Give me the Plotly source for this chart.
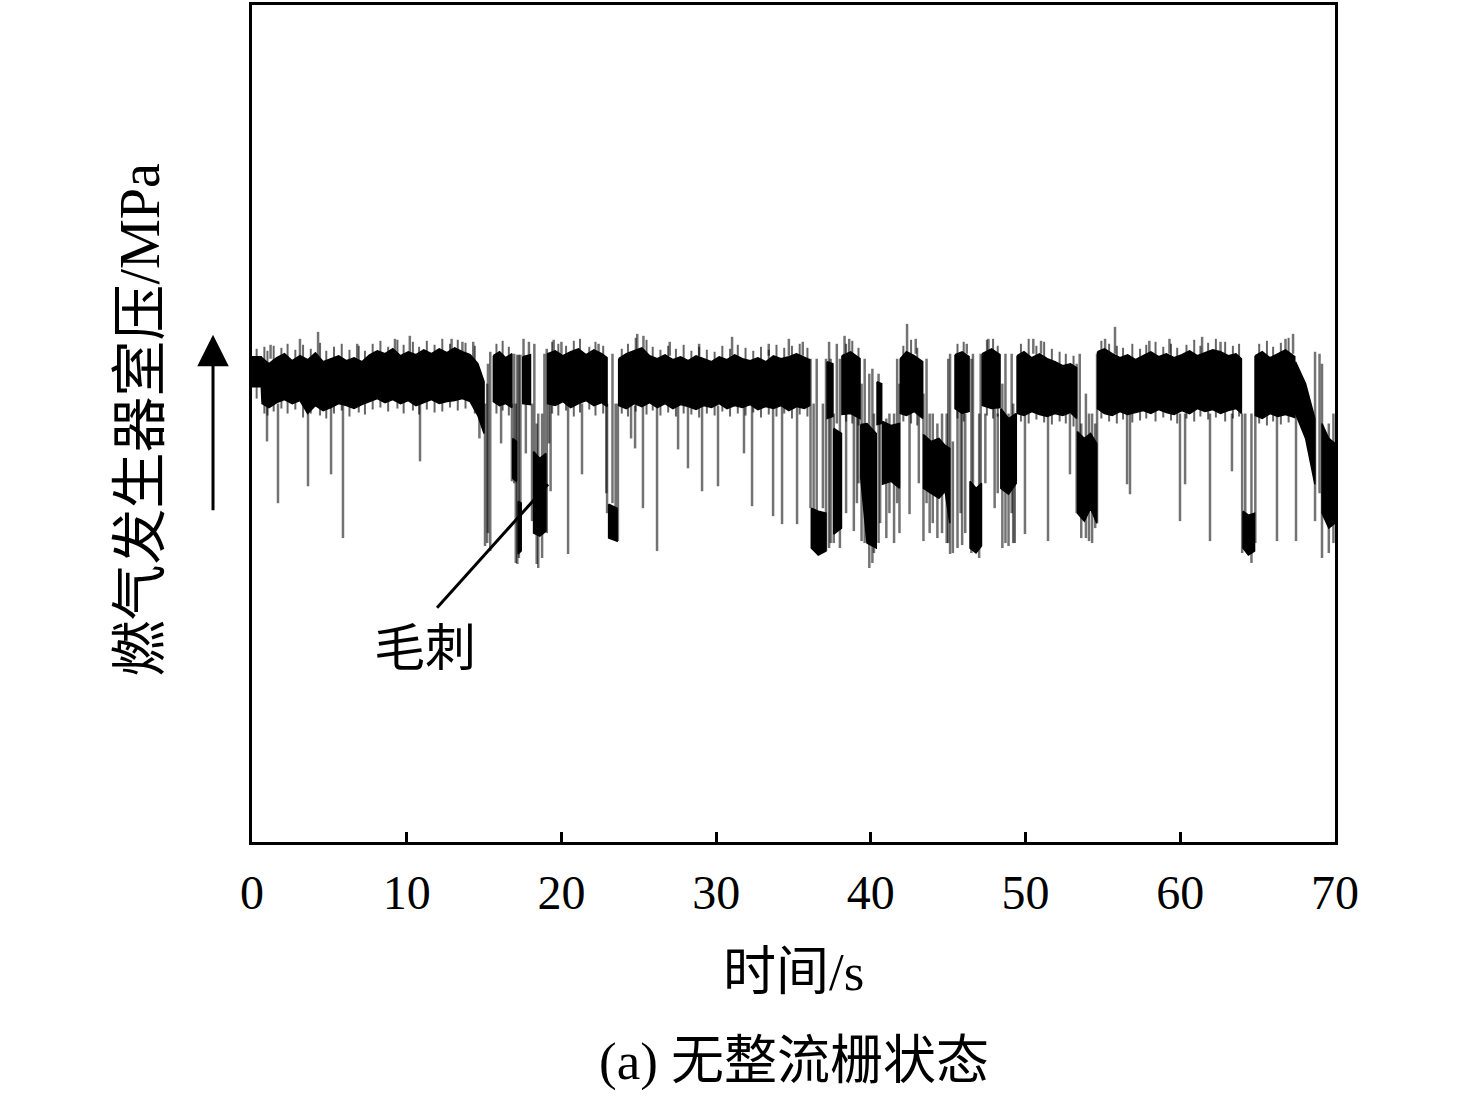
import plotly.graph_objects as go

# time axis (s) and chamber pressure (arbitrary MPa scale, no y labels in source)
# dense black band of the signal: segments separated by None
band_t = [0.0, 0.6, 0.65, 1.1, 1.6, 2.1, 2.6, 3.1, 3.6, 4.1, 4.6, 5.1, 5.6, 6.1, 6.6, 7.1, 7.6, 8.1, 8.6, 9.1,
          9.6, 10.1, 10.6, 11.1, 11.6, 12.1, 12.6, 13.1, 13.6, 14.1, 14.6, 15.0, None,
          15.6, 16.0, 16.4, 16.8, None,
          16.85, 17.1, None,
          17.2, 17.4, None,
          17.5, 18.0, None,
          18.2, 18.6, 19.0, None,
          19.1, 19.6, 20.1, 20.6, 21.1, 21.6, 22.1, 22.6, 22.95, None,
          23.05, 23.6, None,
          23.7, 24.2, 24.7, 25.2, 25.7, 26.2, 26.7, 27.2, 27.7, 28.2, 28.7, 29.2, 29.7, 30.2, 30.7, 31.2,
          31.7, 32.2, 32.7, 33.2, 33.7, 34.2, 34.7, 35.2, 35.7, 36.05, None,
          36.15, 36.6, 37.1, None,
          37.17, 37.55, None,
          37.6, 38.1, None,
          38.13, 38.7, 39.3, None,
          39.35, 39.75, 40.35, None,
          40.4, 40.7, None,
          40.75, 41.3, 41.85, None,
          41.9, 42.3, 42.8, 43.35, None,
          43.4, 43.9, 44.4, 44.8, 45.1, None,
          45.44, 45.9, 46.35, None,
          46.41, 46.8, 47.15, None,
          47.2, 47.8, 48.35, None,
          48.4, 48.9, 49.4, None,
          49.45, 49.9, 50.4, 50.9, 51.4, 51.9, 52.4, 52.9, 53.3, None,
          53.35, 53.8, 54.2, 54.6, None,
          54.65, 55.1, 55.6, 56.1, 56.6, 57.1, 57.6, 58.1, 58.6, 59.1, 59.6, 60.1, 60.6, 61.1, 61.6,
          62.1, 62.6, 63.1, 63.6, 63.95, None,
          64.05, 64.4, 64.8, None,
          64.85, 65.3, 65.8, 66.3, 66.8, 67.4, None,
          67.45, 68.1, 68.7, None,
          69.16, 69.6, 70.0]
band_hi = [4.87, 4.87, 4.86, 4.80, 4.86, 4.90, 4.83, 4.88, 4.84, 4.91, 4.82, 4.85, 4.88, 4.83, 4.86, 4.82, 4.89, 4.93, 4.90, 4.95,
           4.88, 4.92, 4.89, 4.94, 4.90, 4.95, 4.91, 4.96, 4.92, 4.89, 4.80, 4.62, None,
           4.88, 4.92, 4.86, 4.90, None,
           4.05, 4.02, None,
           3.42, 3.40, None,
           4.87, 4.89, None,
           3.92, 3.85, 3.90, None,
           4.90, 4.93, 4.88, 4.92, 4.95, 4.89, 4.94, 4.90, 4.86, None,
           3.39, 3.35, None,
           4.85, 4.90, 4.93, 4.96, 4.88, 4.85, 4.89, 4.84, 4.87, 4.83, 4.88, 4.85, 4.82, 4.87, 4.84, 4.89,
           4.85, 4.83, 4.86, 4.82, 4.88, 4.85, 4.87, 4.90, 4.86, 4.84, None,
           3.35, 3.32, 3.30, None,
           4.82, 4.80, None,
           4.15, 4.10, None,
           4.88, 4.92, 4.85, None,
           4.19, 4.20, 4.10, None,
           4.62, 4.60, None,
           4.22, 4.18, 4.20, None,
           4.85, 4.92, 4.88, 4.82, None,
           4.09, 4.02, 4.05, 3.98, 3.95, None,
           4.89, 4.92, 4.87, None,
           3.62, 3.55, 3.60, None,
           4.90, 4.95, 4.89, None,
           4.35, 4.25, 4.30, None,
           4.88, 4.92, 4.86, 4.90, 4.85, 4.82, 4.78, 4.80, 4.76, None,
           4.12, 4.05, 4.10, 4.00, None,
           4.92, 4.95, 4.90, 4.86, 4.89, 4.84, 4.88, 4.92, 4.87, 4.90, 4.86, 4.89, 4.93, 4.88, 4.91,
           4.94, 4.92, 4.88, 4.90, 4.85, None,
           3.32, 3.28, 3.30, None,
           4.88, 4.92, 4.86, 4.90, 4.94, 4.87, None,
           4.82, 4.60, 4.25, None,
           4.20, 4.05, 4.00]
band_lo = [4.57, 4.57, 4.40, 4.36, 4.41, 4.44, 4.40, 4.43, 4.30, 4.38, 4.33, 4.36, 4.40, 4.38, 4.35, 4.39, 4.42, 4.45, 4.41, 4.44,
           4.40, 4.43, 4.38, 4.41, 4.44, 4.40, 4.42, 4.43, 4.45, 4.42, 4.28, 4.10, None,
           4.42, 4.38, 4.40, 4.36, None,
           3.65, 3.62, None,
           2.89, 2.92, None,
           4.40, 4.39, None,
           3.10, 3.07, 3.12, None,
           4.40, 4.38, 4.42, 4.36, 4.40, 4.43, 4.38, 4.41, 4.37, None,
           3.05, 3.02, None,
           4.38, 4.35, 4.40, 4.37, 4.41, 4.36, 4.40, 4.35, 4.39, 4.37, 4.34, 4.38, 4.36, 4.40, 4.35, 4.38,
           4.36, 4.39, 4.34, 4.37, 4.35, 4.38, 4.33, 4.37, 4.35, 4.38, None,
           2.95, 2.88, 2.92, None,
           4.25, 4.27, None,
           3.09, 3.15, None,
           4.29, 4.30, 4.25, None,
           3.65, 3.00, 2.95, None,
           4.19, 4.20, None,
           3.59, 3.62, 3.55, None,
           4.30, 4.28, 4.32, 4.25, None,
           3.55, 3.50, 3.45, 3.52, 3.20, None,
           4.35, 4.30, 4.32, None,
           2.95, 2.90, 2.97, None,
           4.38, 4.35, 4.36, None,
           3.55, 3.49, 3.60, None,
           4.30, 4.28, 4.32, 4.29, 4.27, 4.30, 4.28, 4.31, 4.25, None,
           3.30, 3.22, 3.35, 3.20, None,
           4.35, 4.30, 4.28, 4.32, 4.29, 4.31, 4.33, 4.30, 4.34, 4.31, 4.29, 4.33, 4.30, 4.35, 4.32,
           4.34, 4.30, 4.33, 4.35, 4.30, None,
           2.95, 2.88, 2.92, None,
           4.28, 4.25, 4.30, 4.27, 4.29, 4.26, None,
           4.30, 4.05, 3.59, None,
           3.30, 3.15, 3.20]

# isolated spikes (grey vertical strokes): time, start, end
spike_t = [0.97, 1.68, 3.62, 5.11, 5.88, 10.86, 14.7, 1.2, 3.1, 4.27, 6.8, 9.24, 10.2, 12.9, 13.6, 14.3,
           15.06, 15.4, 15.25, 16.8, 17.15, 17.25, 17.55, 17.9, 18.1, 18.4, 18.75, 19.05, 19.3, 20.43, 21.33,
           22.95, 23.65, 19.5, 20.0, 22.4,
           15.2, 16.1, 16.95, 17.05, 17.35, 17.7, 18.25, 18.5, 18.9, 19.2, 22.9, 23.3, 23.5,
           24.76, 25.27, 26.18, 27.54, 28.18, 29.09, 30.12, 32.32, 33.68, 34.26, 35.23, 24.5, 31.8,
           24.9, 25.3, 27.0, 28.9, 31.03, 33.4, 34.7, 35.6,
           36.1, 36.3, 37.1, 37.3, 37.6, 38.0, 38.3, 38.6, 38.9, 39.1, 39.4, 39.9, 40.1, 40.5, 41.0, 41.5,
           41.85, 42.34, 42.5, 42.9, 43.4, 43.8, 44.3, 44.9, 45.12, 45.3, 45.6, 45.9, 46.2, 46.5, 47.0,
           47.6, 48.0, 48.5, 48.9, 49.2, 49.96, 51.45, 50.5, 51.0, 52.87, 53.3, 53.6, 54.1, 54.5, 54.62,
           36.5, 36.9, 37.4, 37.8, 38.4, 39.2, 39.6, 40.2, 40.6, 41.2, 41.7, 43.1, 43.6, 44.0, 44.6, 45.0,
           45.8, 46.1, 46.6, 47.1, 47.4, 48.2, 48.7, 49.1, 49.3, 53.5, 53.9, 54.3,
           55.14, 55.78, 56.56, 56.75, 59.98, 60.31, 61.41, 61.92, 63.34, 58.0, 59.3, 62.6, 64.0, 64.6,
           64.85, 66.25, 67.29, 67.48, 66.8, 68.71, 69.0, 69.16, 69.6, 69.9, 64.2]
spike_top = [4.40, 4.40, 4.35, 4.38, 4.40, 4.40, 4.45, 4.85, 4.85, 4.85, 4.85, 4.90, 4.90, 4.90, 4.90, 4.85,
             4.40, 4.92, 4.80, 4.40, 4.89, 4.89, 5.05, 5.02, 4.40, 4.20, 4.30, 4.95, 4.40, 4.40, 4.40,
             4.40, 4.40, 4.90, 4.90, 4.90,
             4.60, 4.40, 4.90, 4.40, 4.89, 4.40, 5.00, 4.30, 4.90, 4.85, 4.40, 4.90, 4.40,
             4.38, 4.38, 4.38, 4.38, 4.38, 4.38, 4.38, 4.38, 4.38, 4.38, 4.38, 4.40, 4.38,
             4.90, 4.90, 4.88, 4.88, 4.88, 4.88, 4.88, 4.88,
             4.85, 4.40, 4.85, 5.02, 4.30, 4.85, 5.08, 5.05, 4.30, 4.80, 4.60, 4.70, 4.75, 4.70, 4.25, 4.30,
             4.60, 4.85, 4.30, 4.90, 4.50, 4.30, 4.20, 4.30, 4.90, 4.02, 4.35, 4.35, 5.00, 4.85, 4.30,
             5.05, 4.35, 4.60, 4.30, 4.40, 4.30, 4.30, 4.90, 4.90, 4.30, 4.80, 4.20, 4.30, 4.20, 4.90,
             4.85, 4.40, 4.85, 5.00, 4.30, 4.85, 4.85, 4.30, 4.60, 4.30, 4.85, 4.30, 4.85, 4.30, 4.30, 4.85,
             4.40, 4.30, 4.90, 4.90, 4.30, 4.30, 4.90, 4.90, 4.30, 4.90, 4.50, 4.30,
             4.90, 4.90, 4.30, 4.30, 4.30, 4.30, 4.90, 4.30, 4.30, 4.90, 4.90, 4.90, 4.30, 4.30,
             4.88, 4.30, 4.90, 4.30, 4.90, 4.92, 4.90, 4.80, 4.20, 4.30, 4.30]
spike_bot = [4.02, 3.40, 3.57, 3.69, 3.05, 3.82, 4.05, 4.99, 5.05, 5.12, 5.00, 5.05, 5.08, 5.05, 5.02, 5.02,
             2.97, 2.92, 3.10, 3.62, 2.79, 2.85, 4.40, 4.40, 3.22, 2.79, 2.85, 3.10, 3.52, 2.89, 3.69,
             3.30, 3.02, 5.04, 5.02, 5.00,
             3.00, 4.00, 3.60, 2.80, 3.40, 3.90, 3.90, 2.75, 3.20, 4.00, 3.50, 3.40, 3.10,
             3.95, 3.35, 2.92, 3.94, 3.75, 3.52, 3.57, 3.37, 3.27, 3.19, 3.19, 4.05, 3.90,
             5.10, 5.08, 5.02, 5.00, 5.07, 5.00, 5.05, 5.02,
             3.35, 3.30, 2.92, 2.95, 3.00, 2.95, 4.85, 4.85, 3.12, 3.40, 3.02, 2.75, 2.80, 3.00, 3.05, 3.00,
             3.10, 5.20, 3.29, 5.05, 3.02, 3.10, 3.05, 3.00, 2.89, 2.90, 2.95, 2.98, 4.90, 2.90, 2.85,
             4.90, 3.35, 2.95, 2.97, 3.00, 3.09, 3.02, 5.05, 5.03, 3.69, 3.30, 3.05, 3.02, 3.15, 3.20,
             3.30, 3.35, 3.00, 4.20, 3.30, 3.60, 3.00, 2.90, 3.20, 3.30, 3.40, 3.60, 3.40, 3.20, 3.10, 3.00,
             3.30, 3.10, 3.00, 3.30, 3.60, 3.50, 3.00, 3.30, 3.00, 3.30, 3.05, 3.00,
             5.05, 5.17, 3.59, 3.49, 3.22, 3.59, 5.07, 3.02, 3.72, 5.03, 5.05, 5.02, 2.90, 2.80,
             3.00, 3.02, 5.10, 3.02, 5.05, 3.22, 3.50, 2.85, 2.90, 3.00, 3.30]

# short strokes roughening the edges of the band: time, top, bottom
fuzz_t = [0.3, 0.8, 1.0, 1.4, 1.9, 2.3, 2.8, 3.3, 3.8, 4.4, 4.8, 5.3, 5.8, 6.3, 6.9, 7.3, 7.8, 8.3, 8.8, 9.4,
          9.8, 10.4, 10.8, 11.3, 11.8, 12.3, 12.8, 13.3, 13.8, 14.4,
          15.8, 16.2, 16.6,
          19.4, 19.8, 20.3, 20.8, 21.2, 21.8, 22.2, 22.7,
          23.9, 24.3, 24.8, 25.5, 25.9, 26.4, 26.9, 27.4, 27.9, 28.4, 28.9, 29.4, 29.9, 30.4, 30.9, 31.4,
          31.9, 32.4, 32.9, 33.4, 33.9, 34.4, 34.9, 35.4, 35.9,
          38.4, 38.8, 39.2, 42.1, 42.6, 43.0, 45.6, 46.0, 47.5, 47.9, 48.2,
          49.7, 50.2, 50.7, 51.2, 51.7, 52.2, 52.6, 53.1,
          54.9, 55.4, 55.9, 56.3, 56.9, 57.4, 57.8, 58.4, 58.9, 59.4, 59.8, 60.4, 60.9, 61.3, 61.8,
          62.3, 62.9, 63.4, 63.8,
          65.1, 65.6, 66.0, 66.5, 67.0]
fuzz_top = [4.95, 4.97, 4.93, 4.98, 4.96, 5.00, 4.94, 4.99, 4.95, 5.01, 4.93, 4.97, 5.00, 4.94, 4.98, 4.93, 5.00, 5.03, 4.97, 5.04,
            4.99, 5.02, 4.97, 5.03, 4.99, 5.05, 5.00, 5.04, 5.01, 4.98,
            5.00, 5.03, 4.97,
            5.02, 5.00, 4.98, 5.03, 5.05, 4.97, 5.02, 4.98,
            4.95, 5.00, 5.06, 5.04, 4.97, 4.94, 4.98, 4.95, 4.99, 4.93, 4.97, 4.94, 4.92, 4.98, 4.95, 4.99,
            4.96, 4.93, 4.97, 4.94, 4.99, 4.96, 4.98, 5.00, 4.96,
            5.00, 5.03, 4.96, 4.98, 5.04, 4.96, 5.00, 5.02, 5.04, 5.05, 4.98,
            5.00, 5.05, 4.98, 5.02, 4.95, 4.92, 4.90, 4.88,
            5.03, 5.00, 4.98, 4.96, 5.00, 4.95, 4.99, 5.02, 4.97, 5.00, 4.96, 4.99, 5.04, 4.98, 5.01,
            5.05, 5.02, 4.98, 5.00,
            5.00, 5.03, 4.97, 5.01, 5.06]
fuzz_bot = [4.45, 4.30, 4.28, 4.32, 4.35, 4.30, 4.34, 4.26, 4.30, 4.28, 4.25, 4.30, 4.33, 4.27, 4.31, 4.29, 4.34, 4.36, 4.32, 4.35,
            4.30, 4.33, 4.29, 4.34, 4.31, 4.32, 4.36, 4.33, 4.35, 4.30,
            4.30, 4.33, 4.28,
            4.30, 4.28, 4.33, 4.27, 4.31, 4.34, 4.28, 4.30,
            4.30, 4.27, 4.32, 4.29, 4.33, 4.28, 4.31, 4.27, 4.30, 4.29, 4.26, 4.30, 4.28, 4.32, 4.27, 4.30,
            4.28, 4.31, 4.26, 4.29, 4.27, 4.30, 4.25, 4.29, 4.27,
            4.22, 4.20, 4.18, 4.22, 4.20, 4.18, 4.25, 4.22, 4.28, 4.25, 4.27,
            4.22, 4.20, 4.24, 4.21, 4.19, 4.22, 4.20, 4.17,
            4.25, 4.22, 4.20, 4.24, 4.21, 4.23, 4.25, 4.22, 4.26, 4.23, 4.20, 4.25, 4.22, 4.27, 4.24,
            4.26, 4.22, 4.25, 4.27,
            4.20, 4.18, 4.22, 4.19, 4.21]

x_ticks = [0, 10, 20, 30, 40, 50, 60, 70]

FONT = "Liberation Serif, Noto Sans CJK SC, serif"

# band outline: hi forward, lo backward, per segment
poly_x, poly_y = [], []
seg_t, seg_hi, seg_lo = [], [], []
for t, hi, lo in zip(band_t + [None], band_hi + [None], band_lo + [None]):
    if t is None:
        if seg_t:
            poly_x += seg_t + seg_t[::-1] + [seg_t[0], None]
            poly_y += seg_hi + seg_lo[::-1] + [seg_hi[0], None]
        seg_t, seg_hi, seg_lo = [], [], []
    else:
        seg_t.append(t)
        seg_hi.append(hi)
        seg_lo.append(lo)


def strokes(ts, tops, bots):
    xs, ys = [], []
    for t, a, b in zip(ts, tops, bots):
        xs += [t, t, None]
        ys += [a, b, None]
    return xs, ys


sx, sy = strokes(spike_t, spike_top, spike_bot)
fx, fy = strokes(fuzz_t, fuzz_top, fuzz_bot)

fig = go.Figure()
fig.add_trace(go.Scatter(x=sx, y=sy, mode="lines", line=dict(color="rgba(0,0,0,0.55)", width=2.5),
                         hoverinfo="skip", showlegend=False))
fig.add_trace(go.Scatter(x=fx, y=fy, mode="lines", line=dict(color="rgba(0,0,0,0.6)", width=2),
                         hoverinfo="skip", showlegend=False))
fig.add_trace(go.Scatter(x=poly_x, y=poly_y, mode="lines", fill="toself", fillcolor="black",
                         line=dict(color="black", width=1.5), hoverinfo="skip", showlegend=False))

# leader line to the spikes
fig.add_shape(type="line", x0=11.96, y0=2.35, x1=19.13, y1=3.59, xref="x", yref="y",
              line=dict(color="black", width=3))

fig.add_annotation(x=11.2, y=1.94, xref="x", yref="y", text="毛刺", showarrow=False,
                   font=dict(family=FONT, size=51, color="black"))
# y-axis title and arrow
fig.add_annotation(x=-0.1034, y=0.5036, xref="paper", yref="paper", text="燃气发生器室压/MPa",
                   textangle=-90, showarrow=False, xanchor="center", yanchor="middle",
                   font=dict(family=FONT, size=56, color="black"))
fig.add_annotation(x=-0.036, y=0.606, xref="paper", yref="paper", text="", showarrow=True,
                   ax=0, ay=177, arrowhead=2, arrowsize=2.1, arrowwidth=3, arrowcolor="black", standoff=0)
# x title and caption
fig.add_annotation(x=0.5, y=-0.155, xref="paper", yref="paper", text="时间/s", showarrow=False,
                   yanchor="middle", font=dict(family=FONT, size=53, color="black"))
fig.add_annotation(x=0.5, y=-0.262, xref="paper", yref="paper", text="(a) 无整流栅状态", showarrow=False,
                   yanchor="middle", font=dict(family=FONT, size=53, color="black"))

fig.update_xaxes(range=[0, 70], tickvals=x_ticks, ticktext=[str(v) for v in x_ticks],
                 ticks="inside", ticklen=10, tickwidth=3, tickcolor="black",
                 showline=True, linewidth=3, linecolor="black", mirror=True, showgrid=False, zeroline=False,
                 tickfont=dict(family=FONT, size=48, color="black"), ticklabelstandoff=6)
fig.update_yaxes(range=[0, 8.4], showticklabels=False, ticks="",
                 showline=True, linewidth=3, linecolor="black", mirror=True, showgrid=False, zeroline=False)
fig.update_layout(width=1476, height=1097, margin=dict(l=252, r=141, t=2, b=255),
                  plot_bgcolor="white", paper_bgcolor="white")
fig.write_html("out.html", config={"displayModeBar": False},
               post_script="document.body.style.margin='0';")
